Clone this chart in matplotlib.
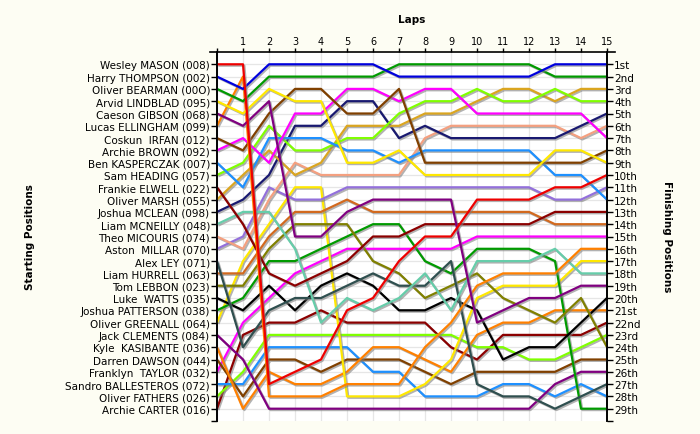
import matplotlib
matplotlib.use('Agg')
import matplotlib.pyplot as plt
import matplotlib.patheffects as pe
from matplotlib.lines import Line2D

# lap numbers (0 = grid)
laps = list(range(16))

drivers = [
    'Wesley MASON (008)', 'Harry THOMPSON (002)', 'Oliver BEARMAN (00O)',
    'Arvid LINDBLAD (095)', 'Caeson GIBSON (068)', 'Lucas ELLINGHAM (099)',
    'Coskun  IRFAN (012)', 'Archie BROWN (092)', 'Ben KASPERCZAK (007)',
    'Sam HEADING (057)', 'Frankie ELWELL (022)', 'Oliver MARSH (055)',
    'Joshua MCLEAN (098)', 'Liam MCNEILLY (048)', 'Theo MICOURIS (074)',
    'Aston  MILLAR (070)', 'Alex LEY (071)', 'Liam HURRELL (063)',
    'Tom LEBBON (023)', 'Luke  WATTS (035)', 'Joshua PATTERSON (038)',
    'Oliver GREENALL (064)', 'Jack CLEMENTS (084)', 'Kyle  KASIBANTE (036)',
    'Darren DAWSON (044)', 'Franklyn  TAYLOR (032)', 'Sandro BALLESTEROS (072)',
    'Oliver FATHERS (026)', 'Archie CARTER (016)',
]

line_colors = [
    '#EE0000', '#0000DD', '#009A00', '#FFE800', '#800080', '#FF8000',
    '#804000', '#FF00FF', '#1E90FF', '#80FF00', '#8B0000', '#DAA520',
    '#191970', '#66CDAA', '#F4A080', '#9370DB', '#2F4F4F', '#D2691E',
    '#808000', '#000000', '#009A00', '#FFE800', '#800080', '#FF8000',
    '#804000', '#FF00FF', '#1E90FF', '#80FF00', '#8B0000',
]

finish_labels = ['1st', '2nd', '3rd'] + ['%dth' % i for i in range(4, 21)] + \
    ['21st', '22nd', '23rd'] + ['%dth' % i for i in range(24, 30)]

# position of each driver at the end of every lap (same order as drivers)
positions = [
    [1, 1, 27, 26, 25, 21, 20, 17, 15, 15, 12, 12, 12, 11, 11, 10],
    [2, 3, 1, 1, 1, 1, 1, 2, 2, 2, 2, 2, 2, 1, 1, 1],
    [3, 4, 2, 2, 2, 2, 2, 1, 1, 1, 1, 1, 1, 2, 2, 2],
    [4, 5, 3, 4, 4, 9, 9, 8, 10, 10, 10, 10, 10, 8, 8, 9],
    [5, 6, 4, 15, 15, 13, 12, 12, 12, 12, 22, 21, 20, 20, 19, 19],
    [6, 2, 28, 28, 28, 27, 27, 27, 24, 22, 19, 18, 18, 18, 16, 16],
    [7, 8, 5, 3, 3, 5, 5, 3, 9, 9, 9, 9, 9, 9, 9, 8],
    [8, 7, 9, 5, 5, 3, 3, 4, 3, 3, 5, 5, 5, 5, 5, 7],
    [9, 11, 7, 7, 7, 8, 8, 9, 8, 8, 8, 8, 8, 10, 10, 12],
    [10, 9, 6, 8, 8, 7, 7, 5, 4, 4, 3, 4, 4, 3, 4, 4],
    [11, 14, 18, 19, 18, 17, 15, 15, 14, 14, 14, 14, 14, 13, 13, 13],
    [12, 10, 8, 10, 9, 6, 6, 6, 5, 5, 4, 3, 3, 4, 3, 3],
    [13, 12, 10, 6, 6, 4, 4, 7, 6, 7, 7, 7, 7, 7, 6, 5],
    [14, 13, 13, 16, 22, 20, 21, 20, 18, 21, 17, 17, 17, 16, 18, 18],
    [15, 16, 12, 9, 10, 10, 10, 10, 7, 6, 6, 6, 6, 6, 7, 6],
    [16, 15, 11, 12, 12, 11, 11, 11, 11, 11, 11, 11, 11, 12, 12, 11],
    [17, 24, 21, 20, 20, 19, 18, 19, 19, 17, 27, 28, 28, 29, 28, 27],
    [18, 18, 15, 13, 13, 12, 13, 13, 13, 13, 13, 13, 13, 14, 14, 14],
    [19, 19, 16, 14, 14, 14, 17, 18, 20, 19, 18, 20, 21, 22, 20, 24],
    [20, 21, 19, 21, 19, 18, 19, 21, 21, 20, 21, 25, 24, 24, 22, 20],
    [21, 20, 17, 17, 16, 15, 14, 14, 17, 18, 16, 16, 16, 17, 29, 29],
    [22, 17, 14, 11, 11, 28, 28, 28, 27, 25, 20, 19, 19, 19, 17, 17],
    [23, 25, 29, 29, 29, 29, 29, 29, 29, 29, 29, 29, 29, 27, 26, 26],
    [24, 29, 26, 27, 27, 26, 24, 24, 25, 26, 23, 22, 22, 21, 21, 21],
    [25, 28, 25, 25, 26, 25, 25, 25, 26, 27, 26, 26, 26, 26, 25, 25],
    [26, 22, 20, 18, 17, 16, 16, 16, 16, 16, 15, 15, 15, 15, 15, 15],
    [27, 27, 24, 24, 24, 24, 26, 26, 28, 28, 28, 27, 27, 28, 27, 28],
    [28, 26, 23, 23, 23, 23, 23, 23, 23, 23, 24, 24, 25, 25, 24, 23],
    [29, 23, 22, 22, 21, 22, 22, 22, 22, 24, 25, 23, 23, 23, 23, 22],
]

n = len(drivers)

fig = plt.figure(figsize=(7, 4.35), dpi=100, facecolor='#FDFDF3')
ax = fig.add_axes([217 / 700, 13 / 435, 390 / 700, 369 / 435])
ax.set_facecolor('white')

# light grid
for x in laps:
    ax.axvline(x, color='#E6E6E6', lw=0.9, zorder=0)
for y in range(1, n + 1):
    ax.axhline(y, color='#E6E6E6', lw=0.9, zorder=0)

shadow = [pe.SimpleLineShadow(offset=(1.0, -1.0), shadow_color='#808080', alpha=0.6),
          pe.Normal()]
for i in range(n - 1, -1, -1):
    ax.plot(laps, positions[i], color=line_colors[i], lw=1.6,
            solid_joinstyle='round', solid_capstyle='butt',
            path_effects=shadow, zorder=3)

ax.set_xlim(0, 15)
ax.set_ylim(n + 1, 0)

# top axis
ax.xaxis.tick_top()
ax.set_xticks(laps)
ax.set_xticklabels([''] + [str(l) for l in laps[1:]], fontsize=7)
ax.tick_params(axis='x', direction='out', length=3, width=1, pad=1)

# left: starting positions
ax.set_yticks(list(range(1, n + 2)))
ax.set_yticklabels(drivers + [''], fontsize=7.5)
ax.tick_params(axis='y', direction='out', length=4, width=1, pad=1)

ax2 = ax.twinx()
ax2.set_ylim(n + 1, 0)
ax2.set_yticks(list(range(1, n + 2)))
ax2.set_yticklabels(finish_labels + [''], fontsize=7.5)
ax2.tick_params(axis='y', direction='out', length=4, width=1, pad=1)

for a in (ax, ax2):
    a.spines['top'].set_visible(False)
    a.spines['bottom'].set_visible(False)
    a.spines['left'].set_linewidth(1.2)
    a.spines['right'].set_linewidth(1.2)

# top axis line running a little past both sides
ax.add_line(Line2D([-0.018, 1.021], [1, 1], transform=ax.transAxes,
                   color='black', lw=1.2, clip_on=False))

fig.text(412 / 700, 1 - 20 / 435, 'Laps', ha='center', va='center',
         fontsize=7.5, fontweight='bold')
fig.text(30 / 700, 1 - 237 / 435, 'Starting Positions', ha='center', va='center',
         rotation=90, fontsize=7.5, fontweight='bold')
fig.text(667 / 700, 1 - 237 / 435, 'Finishing Positions', ha='center', va='center',
         rotation=-90, fontsize=7.5, fontweight='bold')

fig.savefig('out.png', dpi=100, facecolor=fig.get_facecolor())
